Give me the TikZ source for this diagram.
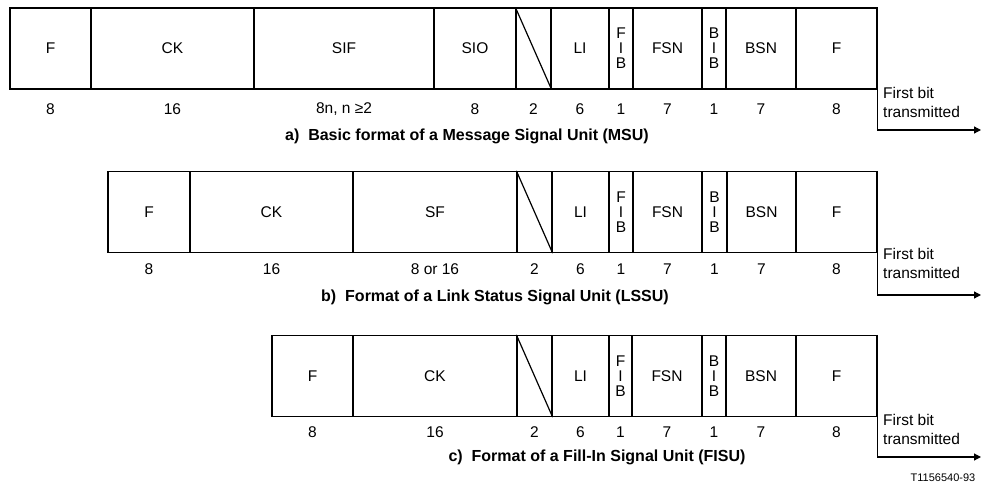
\documentclass[tikz,border=0pt]{standalone}
\usepackage{fontspec}
\setmainfont{Liberation Sans}
\usetikzlibrary{arrows.meta,positioning}

\begin{document}
\begin{tikzpicture}[x=1pt, y=-1pt, >={Triangle[length=7pt,width=7pt]},
  field/.style={draw, line width=1.2pt, inner sep=0pt, minimum height=81pt, align=center, font=\fontsize{15.5}{15}\selectfont},
  num/.style={inner sep=0pt, font=\fontsize{15.5}{15}\selectfont},
  caption/.style={inner sep=0pt, font=\bfseries\fontsize{16}{18}\selectfont},
  firstbit/.style={align=left, anchor=west, inner sep=0pt, font=\fontsize{15.5}{19}\selectfont}]
  \useasboundingbox (0,0) rectangle (982,486);

  % a) MSU
  \foreach \i/\xa/\xb/\txt/\len in {1/10/91/F/8, 2/91/254/CK/16, 3/254/434/SIF/{8n, n ≥2}, 4/434/516/SIO/8, 5/516/551//2, 6/551/609/LI/6, 7/609/633/{F\\I\\B}/1, 8/633/702/FSN/7, 9/702/726/{B\\I\\B}/1, 10/726/796/BSN/7, 11/796/877/F/8} {
    \node[field, minimum width=(\xb-\xa)*1pt] (a\i) at ({(\xa+\xb)/2},48.5) {\txt};
    \node[num] (a\i-n) at ({(\xa+\xb)/2},109) {\len};
  }
  \draw[line width=1.2pt] (a5.north west) -- (a5.south east);
  \coordinate (a-out) at (981,130);
  \draw[->, line width=1.2pt] (a11.north east) |- (a-out);
  \node[firstbit] (a-fb) at (883,102.5) {First bit\\transmitted};
  \node[caption] (a-cap) at (467,136) {a)\ \ Basic format of a Message Signal Unit (MSU)};

  % b) LSSU
  \foreach \i/\xa/\xb/\txt/\len in {1/108/190/F/8, 2/190/353/CK/16, 3/353/517/SF/{8 or 16}, 4/517/552//2, 5/552/609/LI/6, 6/609/633/{F\\I\\B}/1, 7/633/702/FSN/7, 8/702/727/{B\\I\\B}/1, 9/727/796/BSN/7, 10/796/877/F/8} {
    \node[field, minimum width=(\xb-\xa)*1pt] (b\i) at ({(\xa+\xb)/2},212) {\txt};
    \node[num] (b\i-n) at ({(\xa+\xb)/2},269) {\len};
  }
  \draw[line width=1.2pt] (b4.north west) -- (b4.south east);
  \coordinate (b-out) at (981,295);
  \draw[->, line width=1.2pt] (b10.north east) |- (b-out);
  \node[firstbit] (b-fb) at (883,263.5) {First bit\\transmitted};
  \node[caption] (b-cap) at (495,297) {b)\ \ Format of a Link Status Signal Unit (LSSU)};

  % c) FISU
  \foreach \i/\xa/\xb/\txt/\len in {1/272/353/F/8, 2/353/517/CK/16, 3/517/552//2, 4/552/609/LI/6, 5/609/632/{F\\I\\B}/1, 6/632/702/FSN/7, 7/702/726/{B\\I\\B}/1, 8/726/796/BSN/7, 9/796/877/F/8} {
    \node[field, minimum width=(\xb-\xa)*1pt] (c\i) at ({(\xa+\xb)/2},376) {\txt};
    \node[num] (c\i-n) at ({(\xa+\xb)/2},432) {\len};
  }
  \draw[line width=1.2pt] (c3.north west) -- (c3.south east);
  \coordinate (c-out) at (981,457);
  \draw[->, line width=1.2pt] (c9.north east) |- (c-out);
  \node[firstbit] (c-fb) at (883,429) {First bit\\transmitted};
  \node[caption] (c-cap) at (597,457) {c)\ \ Format of a Fill-In Signal Unit (FISU)};

  \node[inner sep=0pt, font=\fontsize{11}{13}\selectfont] (ref) at (943,478) {T1156540-93};
\end{tikzpicture}
\end{document}
